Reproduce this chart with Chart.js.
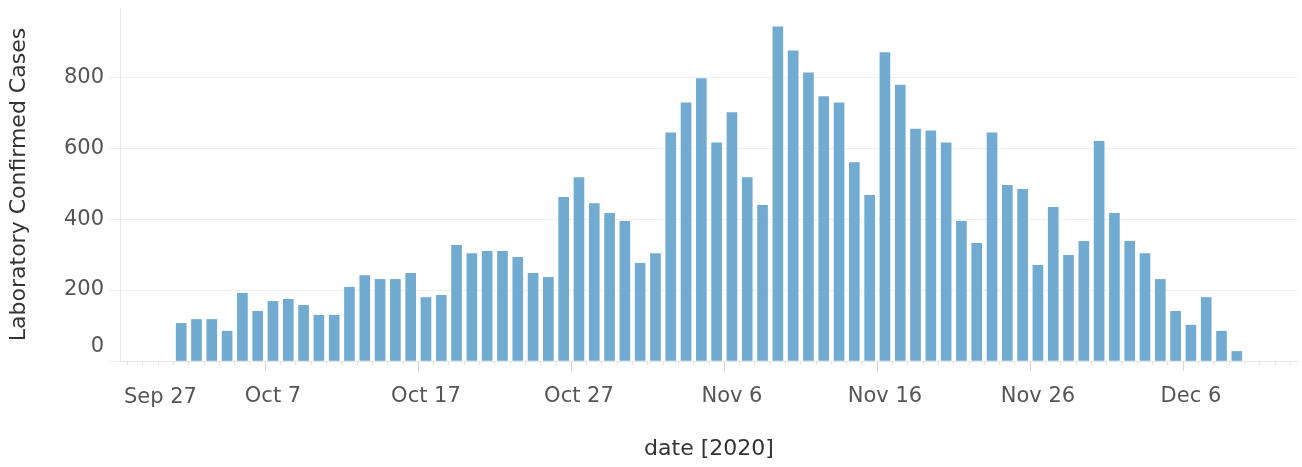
<!DOCTYPE html>
<html>
<head>
<meta charset="utf-8">
<script src="https://cdn.jsdelivr.net/npm/chart.js@4"></script>
<style>
  html, body { margin: 0; padding: 0; background: #fff; }
  #wrap { width: 1302px; height: 467px; position: relative; }
</style>
</head>
<body>
<div id="wrap"><canvas id="c" width="1302" height="467"></canvas></div>
<script>
const categories = [
  "Sep 27","Sep 28","Sep 29","Sep 30",
  "Oct 1","Oct 2","Oct 3","Oct 4","Oct 5","Oct 6","Oct 7","Oct 8","Oct 9","Oct 10",
  "Oct 11","Oct 12","Oct 13","Oct 14","Oct 15","Oct 16","Oct 17","Oct 18","Oct 19","Oct 20",
  "Oct 21","Oct 22","Oct 23","Oct 24","Oct 25","Oct 26","Oct 27","Oct 28","Oct 29","Oct 30","Oct 31",
  "Nov 1","Nov 2","Nov 3","Nov 4","Nov 5","Nov 6","Nov 7","Nov 8","Nov 9","Nov 10",
  "Nov 11","Nov 12","Nov 13","Nov 14","Nov 15","Nov 16","Nov 17","Nov 18","Nov 19","Nov 20",
  "Nov 21","Nov 22","Nov 23","Nov 24","Nov 25","Nov 26","Nov 27","Nov 28","Nov 29","Nov 30",
  "Dec 1","Dec 2","Dec 3","Dec 4","Dec 5","Dec 6","Dec 7","Dec 8","Dec 9","Dec 10",
  "Dec 11","Dec 12","Dec 13"
];
const cases = [
  null, null, null, null,
  106, 117, 117, 84, 191, 140, 168, 174, 157, 129,
  129, 208, 241, 230, 230, 247, 179, 185, 326, 303,
  309, 309, 292, 247, 236, 461, 517, 444, 416, 394, 275,
  303, 643, 728, 796, 615, 700, 517, 439, 942, 874,
  812, 745, 728, 559, 467, 869, 778, 654, 649, 615,
  394, 332, 643, 495, 484, 270, 433, 298, 337, 619,
  416, 337, 303, 230, 140, 101, 179, 84, 27, null,
  null, null, null
];
const xTickLabels = ["Sep 27","Oct 7","Oct 17","Oct 27","Nov 6","Nov 16","Nov 26","Dec 6"];
const yTickValues = [0, 200, 400, 600, 800];

const FONT = "'DejaVu Sans', 'Open Sans', sans-serif";
const TICK_SIZE = 21;
const TITLE_SIZE = 22;
const TICK_COLOR = '#555555';
const X_TICK_PAD = 13;

// Edge labels that the reference nudges inward (first date, zero value)
const edgeLabelPlugin = {
  id: 'edgeLabels',
  afterDraw(chart) {
    const ys = chart.scales.y;
    const xs = chart.scales.x;
    const ctx = chart.ctx;
    ctx.save();
    ctx.font = TICK_SIZE + 'px ' + FONT;
    ctx.fillStyle = TICK_COLOR;
    ctx.textBaseline = 'middle';
    ctx.textAlign = 'right';
    ctx.fillText(String(yTickValues[0]), ys.right - 12 - 4, ys.getPixelForValue(0) - 14);
    ctx.textAlign = 'left';
    ctx.fillText(xTickLabels[0], xs.getPixelForValue(0) + 4, xs.top + 37);
    ctx.restore();
  }
};

new Chart(document.getElementById('c'), {
  type: 'bar',
  data: {
    labels: categories,
    datasets: [{
      label: 'Laboratory Confirmed Cases',
      data: cases,
      backgroundColor: 'rgb(114,171,210)',
      borderWidth: 0,
      barThickness: 10
    }]
  },
  options: {
    responsive: false,
    animation: false,
    layout: { padding: { left: 0, right: 4, top: 8, bottom: 0 } },
    plugins: { legend: { display: false }, tooltip: { enabled: false } },
    scales: {
      x: {
        type: 'category',
        offset: false,
        afterFit(s) { s.height = 106; s.paddingLeft = 0; s.paddingRight = 0; },
        grid: {
          drawOnChartArea: false,
          drawTicks: true,
          tickLength: 10,
          tickColor: (ctx) => (ctx.index % 10 === 0 ? '#d4d4d4' : '#e2e2e2'),
          tickBorderDash: (ctx) => (ctx.index % 10 === 0 ? [] : [3, 30])
        },
        border: { display: true, color: '#e6e6e6' },
        ticks: {
          autoSkip: false,
          maxRotation: 0,
          minRotation: 0,
          padding: X_TICK_PAD,
          color: TICK_COLOR,
          font: { family: FONT, size: TICK_SIZE },
          callback(val, idx) {
            const l = categories[idx];
            return (idx !== 0 && xTickLabels.includes(l)) ? l : '';
          }
        },
        title: {
          display: true,
          text: 'date [2020]',
          color: '#333333',
          font: { family: FONT, size: TITLE_SIZE },
          padding: { bottom: 5, top: 0 }
        }
      },
      y: {
        min: 0,
        max: 995,
        afterFit(s) { s.width = 120; s.paddingTop = 0; s.paddingBottom = 0; },
        afterBuildTicks(s) {
          s.ticks = yTickValues.map(v => ({ value: v }));
        },
        grid: {
          color: '#efefef',
          tickLength: 12,
          lineWidth: 1
        },
        border: { display: true, color: '#e6e6e6' },
        ticks: {
          padding: 4,
          color: TICK_COLOR,
          font: { family: FONT, size: TICK_SIZE },
          callback(v) { return v === 0 ? '' : String(v); }
        },
        title: {
          display: true,
          text: 'Laboratory Confirmed Cases',
          color: '#333333',
          font: { family: FONT, size: TITLE_SIZE },
          padding: { top: 6, bottom: 0 }
        }
      }
    }
  },
  plugins: [edgeLabelPlugin]
});
</script>
</body>
</html>
